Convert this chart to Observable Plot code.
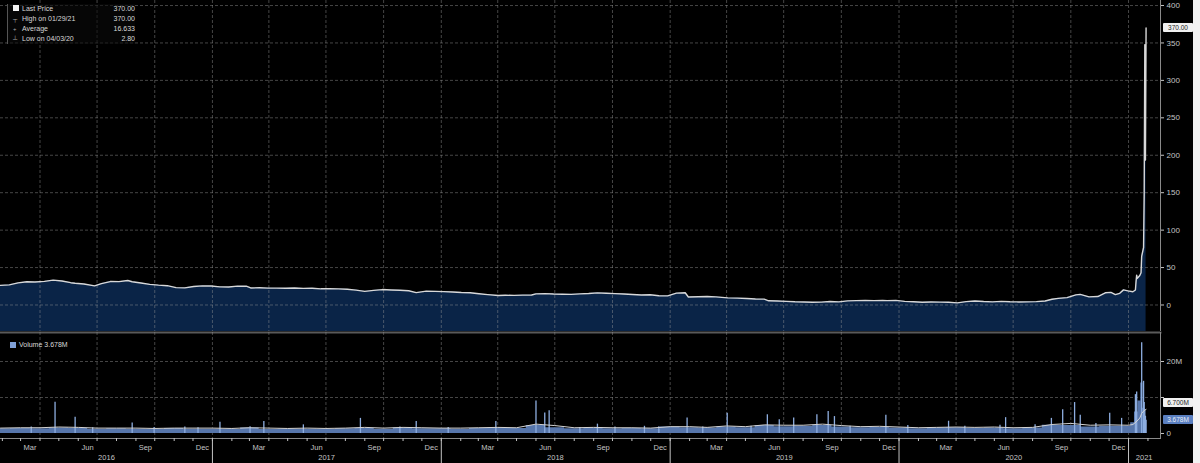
<!DOCTYPE html>
<html>
<head>
<meta charset="utf-8">
<script src="https://cdn.jsdelivr.net/npm/d3@7"></script>
<script src="https://cdn.jsdelivr.net/npm/@observablehq/plot@0.6"></script>
<style>
html,body{margin:0;padding:0;background:#000;}
#wrap{position:relative;width:1200px;height:463px;overflow:hidden;background:#000;font-family:"Liberation Sans",Arial,sans-serif;}
#top,#bot{position:absolute;left:0;}
#top{top:0;}
#bot{top:331px;}
#edge{position:absolute;left:1193px;top:0;width:7px;height:463px;background:#f2f2f2;}
.tag{position:absolute;left:1163px;width:30px;height:9px;font-size:6.5px;line-height:9px;text-align:center;border-radius:1px;}
#leg{position:absolute;left:7px;top:4px;width:122px;font-size:7px;color:#d8d8d8;line-height:10px;border-left:1px solid #555;padding-left:5px;background:rgba(10,10,10,0.6);}
#leg .row{display:flex;align-items:center;}
#leg .ic{width:9px;color:#aaa;font-size:6px;}
#leg .lab{flex:1;}
#leg .val{width:30px;text-align:right;}
#vleg{position:absolute;left:10px;top:341px;font-size:7px;color:#d8d8d8;display:flex;align-items:center;}
.sq{display:inline-block;width:6px;height:6px;margin-right:3px;}
</style>
</head>
<body>
<div id="wrap">
  <div id="top"></div>
  <div id="bot"></div>
  <div id="leg"></div>
  <div id="vleg"></div>
  <div id="edge"></div>
</div>
<script>
// ---------- data ----------
const priceDates = [
"2016-01-29","2016-02-12","2016-02-26","2016-03-11","2016-03-24","2016-04-08","2016-04-22","2016-05-06","2016-05-20","2016-05-27",
"2016-06-10","2016-06-27","2016-07-08","2016-07-22","2016-08-05","2016-08-19","2016-08-26","2016-09-09","2016-09-23","2016-10-07",
"2016-10-21","2016-11-04","2016-11-18","2016-12-02","2016-12-16","2016-12-30","2017-01-13","2017-01-27","2017-02-10","2017-02-24",
"2017-03-03","2017-03-17","2017-03-31","2017-04-13","2017-04-28","2017-05-12","2017-05-26","2017-06-09","2017-06-23","2017-07-07",
"2017-07-21","2017-08-04","2017-08-18","2017-09-01","2017-09-15","2017-09-29","2017-10-13","2017-10-27","2017-11-10","2017-11-22",
"2017-12-08","2017-12-22","2018-01-05","2018-01-19","2018-02-02","2018-02-16","2018-03-02","2018-03-16","2018-04-02","2018-04-13",
"2018-04-27","2018-05-11","2018-05-25","2018-06-01","2018-06-15","2018-06-29","2018-07-13","2018-07-27","2018-08-10","2018-08-24",
"2018-09-07","2018-09-21","2018-10-05","2018-10-19","2018-11-02","2018-11-16","2018-11-30","2018-12-14","2018-12-28","2019-01-11",
"2019-01-25","2019-01-30","2019-02-15","2019-03-01","2019-03-15","2019-04-03","2019-04-18","2019-05-03","2019-05-17","2019-05-31",
"2019-06-07","2019-06-21","2019-07-05","2019-07-19","2019-08-02","2019-08-16","2019-08-30","2019-09-13","2019-09-27","2019-10-11",
"2019-10-25","2019-11-08","2019-11-22","2019-12-06","2019-12-13","2019-12-27","2020-01-10","2020-01-24","2020-02-07","2020-02-21",
"2020-03-06","2020-03-20","2020-04-03","2020-04-17","2020-05-01","2020-05-15","2020-05-29","2020-06-12","2020-06-26","2020-07-10",
"2020-07-24","2020-08-07","2020-08-21","2020-09-01","2020-09-11","2020-09-25","2020-10-09","2020-10-16","2020-10-30","2020-11-13",
"2020-11-25","2020-12-04","2020-12-11","2020-12-18","2020-12-24","2020-12-31","2021-01-08","2021-01-12","2021-01-13","2021-01-14",
"2021-01-15","2021-01-19","2021-01-21","2021-01-22","2021-01-25","2021-01-26","2021-01-27","2021-01-28","2021-01-29"];
const priceClose = [
26.2,26.9,29.5,31.0,30.8,31.5,33.2,32.0,29.8,29.0,
28.0,25.5,28.6,31.3,31.2,32.7,31.0,29.3,27.6,26.5,
25.8,23.2,22.9,24.7,25.6,25.3,24.2,24.0,25.2,25.1,
22.8,23.0,22.6,22.5,22.4,22.7,22.2,22.4,21.6,21.8,
21.5,21.0,19.9,18.2,19.5,20.6,20.0,19.6,19.0,16.5,
18.5,18.2,17.9,17.4,16.6,16.3,15.0,13.8,12.6,13.0,
12.8,13.2,13.4,14.9,15.2,14.6,14.4,14.2,14.8,15.3,
16.2,15.6,15.2,14.6,14.1,13.4,13.7,12.4,12.2,15.8,
16.3,10.7,11.1,11.4,10.9,9.5,9.2,8.6,8.0,7.8,
5.6,5.4,4.9,4.3,4.0,3.6,3.8,4.6,4.2,5.5,
5.9,6.1,5.8,6.0,5.9,6.1,4.8,4.3,3.7,4.1,
3.9,3.6,2.8,4.5,5.4,4.6,4.2,4.8,4.3,4.1,
4.2,4.5,5.3,7.7,8.9,9.9,13.5,14.2,10.9,11.3,
16.3,16.9,13.9,15.6,20.2,18.8,17.7,20.0,31.4,39.9,
35.5,39.4,43.0,65.0,76.8,148.0,347.5,193.6,370.0];

// volume carpet (typical daily volume, millions) and its moving average
const volBaseDates = [
"2016-01-29","2016-03-01","2016-04-01","2016-05-01","2016-06-01","2016-07-01","2016-08-01","2016-09-01","2016-10-01","2016-11-01","2016-12-01",
"2017-01-01","2017-02-01","2017-03-01","2017-04-01","2017-05-01","2017-06-01","2017-07-01","2017-08-01","2017-09-01","2017-10-01","2017-11-01","2017-12-01",
"2018-01-01","2018-02-01","2018-03-01","2018-04-01","2018-05-01","2018-06-01","2018-07-01","2018-08-01","2018-09-01","2018-10-01","2018-11-01","2018-12-01",
"2019-01-01","2019-02-01","2019-03-01","2019-04-01","2019-05-01","2019-06-01","2019-07-01","2019-08-01","2019-09-01","2019-10-01","2019-11-01","2019-12-01",
"2020-01-01","2020-02-01","2020-03-01","2020-04-01","2020-05-01","2020-06-01","2020-07-01","2020-08-01","2020-09-01","2020-10-01","2020-11-01","2020-12-01",
"2021-01-01","2021-01-08","2021-01-13","2021-01-19","2021-01-22","2021-01-26","2021-01-29"];
const volBase = [
1.3,1.4,1.3,1.5,1.4,1.2,1.3,1.2,1.1,1.4,1.2,
1.2,1.1,1.5,1.1,1.2,1.2,1.1,1.3,1.4,1.2,1.5,1.3,
1.3,1.2,1.4,1.5,1.4,2.2,1.6,1.3,1.5,1.3,1.4,1.3,
1.8,1.6,1.5,1.8,1.6,2.2,1.9,2.0,2.2,1.8,1.6,1.7,
1.5,1.3,1.5,1.6,1.4,1.5,1.3,1.5,2.3,2.2,1.8,2.0,
2.0,3.0,6.0,9.0,14.0,7.0,3.7];
const volAvg = [
1.5,1.6,1.6,1.8,1.7,1.5,1.5,1.5,1.4,1.5,1.5,
1.5,1.4,1.6,1.5,1.4,1.5,1.4,1.5,1.7,1.5,1.7,1.6,
1.5,1.5,1.6,1.7,1.6,2.6,2.2,1.6,1.7,1.6,1.6,1.5,
1.9,1.9,1.7,2.1,1.9,2.4,2.3,2.3,2.6,2.2,1.9,2.0,
1.8,1.6,1.7,1.8,1.7,1.8,1.6,1.7,2.5,2.8,2.3,2.4,
2.3,2.5,3.2,4.3,5.6,6.4,6.7];

// volume spikes (millions)
const spikeDates = [
"2016-03-18","2016-04-25","2016-05-27","2016-06-24","2016-08-26","2016-09-30","2016-11-18","2016-12-09","2017-01-13","2017-03-02",
"2017-03-24","2017-05-26","2017-08-25","2017-10-27","2017-11-22","2018-01-12","2018-03-29","2018-06-01","2018-06-15","2018-06-22",
"2018-08-10","2018-09-07","2018-10-05","2018-11-21","2018-12-14","2019-01-28","2019-02-22","2019-04-02","2019-05-10","2019-06-05",
"2019-06-24","2019-07-17","2019-08-23","2019-09-10","2019-09-20","2019-10-15","2019-12-11","2020-01-15","2020-03-20","2020-04-15",
"2020-06-10","2020-06-19","2020-08-05","2020-08-31","2020-09-18","2020-10-07","2020-10-16","2020-11-10","2020-12-02","2020-12-21",
"2021-01-12","2021-01-14","2021-01-22","2021-01-25","2021-01-26","2021-01-27","2021-01-28","2021-01-29"];
const spikeVolume = [
1.8,8.7,4.5,1.6,2.9,1.7,1.8,1.6,3.1,1.9,
3.3,2.4,4.2,1.8,3.3,1.7,3.3,9.0,5.7,6.3,
1.7,2.6,1.8,2.0,1.9,4.3,1.8,5.6,2.0,5.2,
3.8,4.3,5.2,6.1,4.7,2.0,5.1,2.2,3.4,2.0,
2.3,4.4,2.4,4.2,6.6,8.6,5.1,2.8,5.6,4.2,
10.8,11.5,25.2,14.5,8.6,6.4,4.8,3.678];

// axes / labels
const priceTicks = [0,50,100,150,200,250,300,350,400];
const volTicks = [0,10,20];
const volTickLabels = ["0","","20M"];
const monthLabelDates = [];
const monthLabelTexts = [];
["2016","2017","2018","2019","2020"].forEach(y => {
  [["03","Mar"],["06","Jun"],["09","Sep"],["12","Dec"]].forEach(([m,t]) => {
    monthLabelDates.push(new Date(`${y}-${m}-16`)); monthLabelTexts.push(t);
  });
});
const yearLabelDates = ["2016-07-16","2017-07-02","2018-07-02","2019-07-02","2020-07-02","2021-01-26"];
const yearLabelTexts = ["2016","2017","2018","2019","2020","2021"];
const legendRows = [
  ["■","Last Price","370.00"],
  ["┬","High on 01/29/21","370.00"],
  ["+","Average","16.633"],
  ["┴","Low on 04/03/20","2.80"]
];
const volumeLegend = "Volume 3.678M";
const tagPrice = 370.00, tagAvgVol = 6.7, tagVol = 3.678;

// ---------- build ----------
const price = priceDates.map((d,i) => ({date:new Date(d), close:priceClose[i]}));
const vbase = volBaseDates.map((d,i) => ({date:new Date(d), v:volBase[i], a:volAvg[i]}));
const spikes = spikeDates.map((d,i) => ({date:new Date(d), v:spikeVolume[i]}));

const xDomain = [new Date("2016-01-29"), new Date("2021-02-21")];
const quarterStarts = d3.utcMonth.range(new Date("2016-04-01"), xDomain[1]).filter(d => d.getUTCMonth()%3===0);
const monthStarts = d3.utcMonth.range(new Date("2016-02-01"), xDomain[1]);
const yearStarts = d3.utcYear.range(new Date("2017-01-01"), xDomain[1]);

const font = "Liberation Sans, Arial, sans-serif";
const gridStyle = {stroke:"#9a9a9a", strokeOpacity:0.45, strokeDasharray:"3,2"};
const yTopDomain = [-35.4, 406.7];

const topPlot = Plot.plot({
  width:1200, height:331, marginLeft:0, marginRight:40, marginTop:0, marginBottom:0,
  style:{background:"transparent", color:"#c4c4c4", fontSize:"8px", fontFamily:font, overflow:"visible"},
  x:{type:"utc", domain:xDomain, axis:null},
  y:{domain:yTopDomain, label:null},
  marks:[
    Plot.areaY(price, {x:"date", y1:yTopDomain[0], y2:"close", fill:"#0a2447"}),
    Plot.gridX(quarterStarts, gridStyle),
    Plot.gridY(priceTicks, gridStyle),
    Plot.lineY(price, {x:"date", y:"close", stroke:"#d8d8d8", strokeWidth:1.4}),
    Plot.axisY(priceTicks, {anchor:"right", label:null, tickSize:3, tickPadding:3, fontSize:8}),
    Plot.ruleX([xDomain[1]], {stroke:"#8a8a8a"})
  ]
});
document.getElementById("top").appendChild(topPlot);

const botPlot = Plot.plot({
  width:1200, height:132, marginLeft:0, marginRight:40, marginTop:1, marginBottom:25,
  style:{background:"transparent", color:"#c4c4c4", fontSize:"8px", fontFamily:font, overflow:"visible"},
  x:{type:"utc", domain:xDomain, label:null},
  y:{domain:[-1.39, 28.06], label:null},
  marks:[
    Plot.frame({anchor:"top", stroke:"#5a5a5a", strokeWidth:2}),
    Plot.gridX(quarterStarts, gridStyle),
    Plot.gridY([10,20], gridStyle),
    Plot.areaY(vbase, {x:"date", y:"v", fill:"#5776ab", curve:"step"}),
    Plot.ruleX(spikes, {x:"date", y1:0, y2:"v", stroke:"#8eaee0", strokeWidth:1.3}),
    Plot.lineY(vbase, {x:"date", y:"a", stroke:"#d4d4d4", strokeWidth:1}),
    Plot.axisY(volTicks, {anchor:"right", label:null, tickSize:3, tickPadding:3, fontSize:8, tickFormat:(d) => volTickLabels[volTicks.indexOf(d)]}),
    Plot.ruleX([xDomain[1]], {stroke:"#8a8a8a"}),
    Plot.frame({anchor:"bottom", stroke:"#8a8a8a"}),
    Plot.axisX(monthStarts, {anchor:"bottom", label:null, tickSize:3, tickFormat:() => ""}),
    Plot.axisX(yearStarts, {anchor:"bottom", label:null, tickSize:25, tickFormat:() => ""}),
    Plot.text(monthLabelDates, {x:d => d, text:(d,i) => monthLabelTexts[i], frameAnchor:"bottom", dy:11, fontSize:7.5, fill:"#c4c4c4"}),
    Plot.text(yearLabelDates.map(d => new Date(d)), {x:d => d, text:(d,i) => yearLabelTexts[i], frameAnchor:"bottom", dy:21, fontSize:7.5, fill:"#c4c4c4"})
  ]
});
document.getElementById("bot").appendChild(botPlot);

// ---------- value tags & legends ----------
const wrap = document.getElementById("wrap");
function tag(yPx, text, bg, fg) {
  const el = document.createElement("div");
  el.className = "tag";
  el.style.top = (yPx - 4.5) + "px";
  el.style.background = bg; el.style.color = fg;
  el.textContent = text;
  wrap.appendChild(el);
}
tag(topPlot.scale("y").apply(tagPrice), tagPrice.toFixed(2), "#f0f0f0", "#222");
tag(331 + botPlot.scale("y").apply(tagAvgVol) - 6, tagAvgVol.toFixed(3) + "M", "#f0f0f0", "#222");
tag(331 + botPlot.scale("y").apply(tagVol), tagVol.toFixed(3) + "M", "#5a7fc0", "#e8eef8");

const leg = document.getElementById("leg");
legendRows.forEach((r,i) => {
  const row = document.createElement("div"); row.className = "row";
  const ic = document.createElement("span"); ic.className = "ic";
  if (i === 0) { ic.innerHTML = '<span class="sq" style="background:#f4f4f4;width:6px;height:6px;"></span>'; }
  else ic.textContent = r[0];
  const lab = document.createElement("span"); lab.className = "lab"; lab.textContent = r[1];
  const val = document.createElement("span"); val.className = "val"; val.textContent = r[2];
  row.append(ic, lab, val); leg.appendChild(row);
});
document.getElementById("vleg").innerHTML = '<span class="sq" style="background:#7fa0d8;"></span>' + volumeLegend;
</script>
</body>
</html>
